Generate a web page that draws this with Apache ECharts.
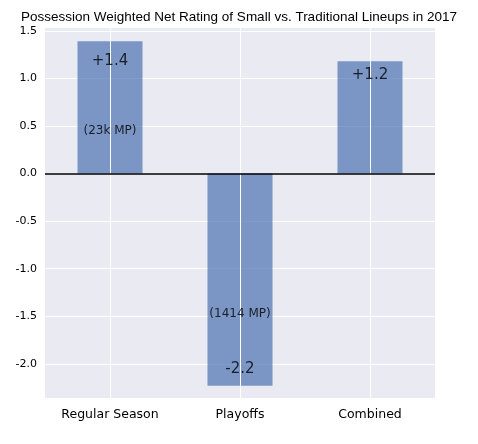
<!DOCTYPE html>
<html><head><meta charset="utf-8">
<script src="https://cdn.jsdelivr.net/npm/echarts@6/dist/echarts.min.js"></script>
<style>html,body{margin:0;padding:0;background:#fff}#c{width:478px;height:444px}</style>
</head><body><div id="c"></div>
<script>
const categories = ['Regular Season','Playoffs','Combined'];
const values = [1.39, -2.23, 1.18];
const valueLabels = ['+1.4','-2.2','+1.2'];
const valueLabelY = [1.18, -2.06, 1.03];
const mpLabels = ['(23k MP)','(1414 MP)',''];
const mpLabelY = [0.45, -1.48, null];
const yTicks = [-2.0,-1.5,-1.0,-0.5,0.0,0.5,1.0,1.5];

const chart = echarts.init(document.getElementById('c'));
const txt = (labels, ys, size) => ({
  type:'scatter', symbolSize:0, silent:true, z:5,
  data: categories.map((c,i)=> ys[i]==null?null:{value:[c,ys[i]], name:labels[i]}).filter(Boolean),
  label:{show:true, position:'inside', formatter:p=>p.name, color:'#000', fontSize:size, fontFamily:'DejaVu Sans'}
});
chart.setOption({
  animation:false,
  title:{text:'Possession Weighted Net Rating of Small vs. Traditional Lineups in 2017', left:'center', top:5,
    textStyle:{fontSize:13.5, fontWeight:'normal', color:'#000', fontFamily:'Liberation Sans'}},
  grid:{left:45, right:43, top:28, bottom:46, backgroundColor:'#EAEAF2', show:true, borderWidth:0},
  xAxis:{type:'category', data:categories, axisLine:{show:false}, axisTick:{show:false},
    axisLabel:{color:'#000', fontSize:12.5, margin:10, fontFamily:'DejaVu Sans'}},
  yAxis:{type:'value', min:-2.36, max:1.53, interval:0.5,
    axisLabel:{color:'#000', fontSize:11, fontFamily:'DejaVu Sans', formatter:v=>{const t=yTicks.find(x=>Math.abs(x-v)<1e-6);return t===undefined?'':t.toFixed(1);},
      customValues:yTicks},
    axisTick:{show:false, customValues:yTicks}, axisLine:{show:false},
    splitLine:{lineStyle:{color:'#fff', width:1}, customValues:yTicks}},
  series:[
    {type:'line', data:[], z:1, silent:true,
      markLine:{silent:true, symbol:'none', label:{show:false}, lineStyle:{color:'#fff', width:1, type:'solid'},
        data:categories.map(c=>({xAxis:c}))}},
    {type:'bar', data:values, barWidth:'50%', z:2, itemStyle:{color:'rgba(76,114,176,0.7)'},
      markLine:{silent:true, symbol:'none', label:{show:false}, lineStyle:{color:'#000', width:1.5, type:'solid'}, data:[{yAxis:0}]}},
    txt(valueLabels, valueLabelY, 15),
    txt(mpLabels, mpLabelY, 12)
  ]
});
</script></body></html>
